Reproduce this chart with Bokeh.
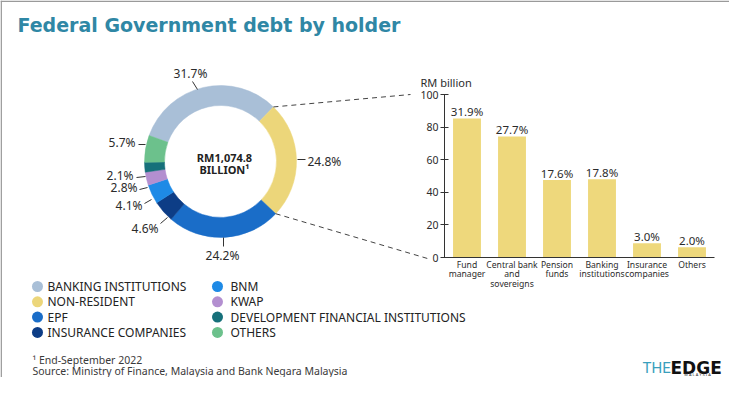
import numpy as np
from bokeh.plotting import figure
from bokeh.models import Range1d, LinearAxis, FixedTicker
from bokeh.core.properties import value
from bokeh.embed import file_html
from bokeh.resources import INLINE

# ---------------- data ----------------
holders = ["BANKING INSTITUTIONS", "NON-RESIDENT", "EPF", "INSURANCE COMPANIES",
           "BNM", "KWAP", "DEVELOPMENT FINANCIAL INSTITUTIONS", "OTHERS"]
holder_share = [31.7, 24.8, 24.2, 4.6, 4.1, 2.8, 2.1, 5.7]
holder_colors = ["#a9bfd7", "#ecd67a", "#1a6dc8", "#0d3d86",
                 "#1e8ae6", "#b38fd0", "#16707a", "#6cc18c"]
total_label = ["RM1,074.8", "BILLION\u00b9"]

nr_categories = ["Fund\nmanager", "Central bank\nand\nsovereigns", "Pension\nfunds",
                 "Banking\ninstitutions", "Insurance\ncompanies", "Others"]
nr_values = [85.3, 74.3, 47.5, 48.0, 8.8, 6.3]
nr_pct = ["31.9%", "27.7%", "17.6%", "17.8%", "3.0%", "2.0%"]
y_ticks = [0, 20, 40, 60, 80, 100]

title_text = "Federal Government debt by holder"
unit_text = "RM billion"
foot_texts = ["\u00b9 End-September 2022",
              "Source: Ministry of Finance, Malaysia and Bank Negara Malaysia"]

# ---------------- layout constants (reference pixel space) ----------------
W, H = 729, 377
X0, Y0 = 0, 0
FONT = value("Noto Sans")
TXT = "#2b2b2b"


def Y(v):
    return -v


p = figure(width=W, height=H, x_range=Range1d(X0, X0 + W), y_range=Range1d(-(Y0 + H), -Y0),
           output_backend="svg", toolbar_location=None, x_axis_type=None, y_axis_type=None,
           min_border=0)
p.outline_line_color = None
p.background_fill_color = "white"
p.border_fill_color = "white"

# frame lines of the card (left and top)
p.segment(x0=[0.7, 0], y0=[0, Y(0.7)], x1=[0.7, W], y1=[Y(H), Y(0.7)],
          line_color="#9a9a9a", line_width=1.5)

# title
p.text(x=[17], y=[Y(24)], text=[title_text], text_font=value("DejaVu Sans"),
       text_font_style="bold", text_font_size="19px", text_color="#2f87a5",
       text_baseline="middle", text_align="left")

# ---------------- donut ----------------
CX, CY = 220, 161
R_IN, R_OUT = 56, 76
START = np.deg2rad(160)
shares = np.array(holder_share) / sum(holder_share) * 2 * np.pi
ends = START - np.concatenate([[0], np.cumsum(shares)[:-1]])
starts = ends - shares
p.annular_wedge(x=CX, y=Y(CY), inner_radius=R_IN, outer_radius=R_OUT,
                start_angle=list(starts), end_angle=list(ends),
                fill_color=holder_colors, line_color=holder_colors, line_width=0.5)

p.text(x=[224, 224], y=[Y(157), Y(169)], text=total_label, text_font=FONT,
       text_font_style="bold", text_font_size="11px", text_color="#222222",
       text_align="center", text_baseline="middle")

# donut value labels (positions per label) and leader lines
lbl_x = [190, 307, 222, 158, 142, 137, 133, 135]
lbl_y = [73, 161, 255, 228, 205, 187, 175, 142]
lbl_align = ["center", "left", "center", "right", "right", "right", "right", "right"]
lead_x0 = [192, 297, 223, 160, 144, 139, 136, 138]
lead_y0 = [81, 159, 237, 223, 203, 189, 177, 144]
lead_x1 = [197, 305, 223, 167, 151, 147, 145, 145]
lead_y1 = [89, 159, 246, 217, 199, 187, 176, 144]
p.segment(x0=lead_x0, y0=[Y(v) for v in lead_y0], x1=lead_x1, y1=[Y(v) for v in lead_y1],
          line_color="#333333", line_width=1)
for i, s in enumerate(holder_share):
    p.text(x=[lbl_x[i]], y=[Y(lbl_y[i])], text=[f"{s}%"], text_font=FONT,
           text_font_size="12px", text_color=TXT, text_align=lbl_align[i],
           text_baseline="middle")

# ---------------- bar chart (non-resident breakdown) ----------------
BAR_ZERO_PX, BAR_PX = 257, 1.63
BAR_X0_PX, BAR_STEP = 466.5, 45
p.extra_y_ranges = {"bary": Range1d((BAR_ZERO_PX - (Y0 + H)) / BAR_PX, (BAR_ZERO_PX - Y0) / BAR_PX)}
p.extra_x_ranges = {"barx": Range1d((X0 - BAR_X0_PX) / BAR_STEP, (X0 + W - BAR_X0_PX) / BAR_STEP)}
idx = list(range(len(nr_categories)))
p.vbar(x=idx, top=nr_values, bottom=0, width=0.62, fill_color="#eed87c", line_color=None,
       x_range_name="barx", y_range_name="bary")
p.text(x=idx, y=nr_values, text=nr_pct, text_font=FONT, text_font_size="11.5px",
       text_color=TXT, text_align="center", text_baseline="middle", y_offset=-7,
       x_range_name="barx", y_range_name="bary")

yax = LinearAxis(x_range_name="barx", y_range_name="bary", fixed_location=-0.5,
                 bounds=(0, 100), ticker=FixedTicker(ticks=y_ticks, minor_ticks=[]))
yax.axis_line_color = "#333333"
yax.major_tick_line_color = "#333333"
yax.major_tick_in = 4
yax.major_tick_out = 4
yax.major_label_standoff = 2
yax.major_label_text_font = "Noto Sans"
yax.major_label_text_font_size = "10.5px"
yax.major_label_text_color = TXT
p.add_layout(yax, "left")

xax = LinearAxis(x_range_name="barx", y_range_name="bary", fixed_location=0,
                 bounds=(-0.5, len(idx) - 0.5), ticker=FixedTicker(ticks=idx, minor_ticks=[]))
xax.axis_line_color = "#333333"
xax.major_tick_in = 0
xax.major_tick_out = 0
xax.major_label_text_alpha = 0
xax.major_label_text_font_size = "1px"
p.add_layout(xax, "below")

# category labels under the bars: one text per line, tight leading
cat_x, cat_txt, cat_off = [], [], []
for i, c in enumerate(nr_categories):
    for j, line in enumerate(c.split("\n")):
        cat_x.append(i)
        cat_txt.append(line)
        cat_off.append(7 + 9.6 * j)
p.text(x=cat_x, y=[0] * len(cat_x), text=cat_txt, y_offset=cat_off, text_font=FONT,
       text_font_size="8.6px", text_color=TXT, text_align="center", text_baseline="middle",
       x_range_name="barx", y_range_name="bary")

p.text(x=[420], y=[Y(82)], text=[unit_text], text_font=FONT, text_font_size="11px",
       text_color=TXT, text_align="left", text_baseline="middle")

# dashed connectors from donut slice edges to the bar axis
a_top = ends[1]
a_bot = starts[1]
top_x1 = 410
bot_x1 = 427
p.segment(x0=[CX + R_OUT * np.cos(a_top), CX + R_OUT * np.cos(a_bot)],
          y0=[Y(CY) + R_OUT * np.sin(a_top), Y(CY) + R_OUT * np.sin(a_bot)],
          x1=[top_x1, bot_x1], y1=[Y(BAR_ZERO_PX - 100 * BAR_PX), Y(BAR_ZERO_PX + 1)],
          line_color="#444444", line_width=1, line_dash="5 4")

# ---------------- legend ----------------
leg_cx = [37, 217]
leg_tx = [47, 230]
leg_y0, leg_dy = 286, 15.3
lx, ly, tx = [], [], []
for i in range(len(holders)):
    c, r = divmod(i, 4)
    lx.append(leg_cx[c])
    tx.append(leg_tx[c])
    ly.append(Y(leg_y0 + r * leg_dy))
p.scatter(x=lx, y=ly, size=11, marker="circle", fill_color=holder_colors, line_color=None)
p.text(x=tx, y=ly, text=holders, text_font=FONT, text_font_size="12px", text_color="#222222",
       text_align="left", text_baseline="middle")

# ---------------- footnotes ----------------
p.text(x=[32, 32], y=[Y(359), Y(370)], text=foot_texts, text_font=FONT, text_font_size="10.5px",
       text_color="#3a3a3a", text_align="left", text_baseline="middle")

# ---------------- logo ----------------
p.text(x=[642], y=[Y(367)], text=["THE"], text_font=value("Roboto"),
       text_font_size="15px", text_color="#3a9fbd", text_align="left", text_baseline="middle")
p.text(x=[670], y=[Y(367)], text=["EDGE"], text_font=value("DejaVu Sans"), text_font_style="bold",
       text_font_size="17px", text_color="#111111", text_align="left", text_baseline="middle")
p.text(x=[697], y=[Y(373.5)], text=["M A L A Y S I A"], text_font=FONT, text_font_size="4px",
       text_color="#333333", text_align="center", text_baseline="middle")

open("out.html", "w").write(file_html(p, INLINE))
